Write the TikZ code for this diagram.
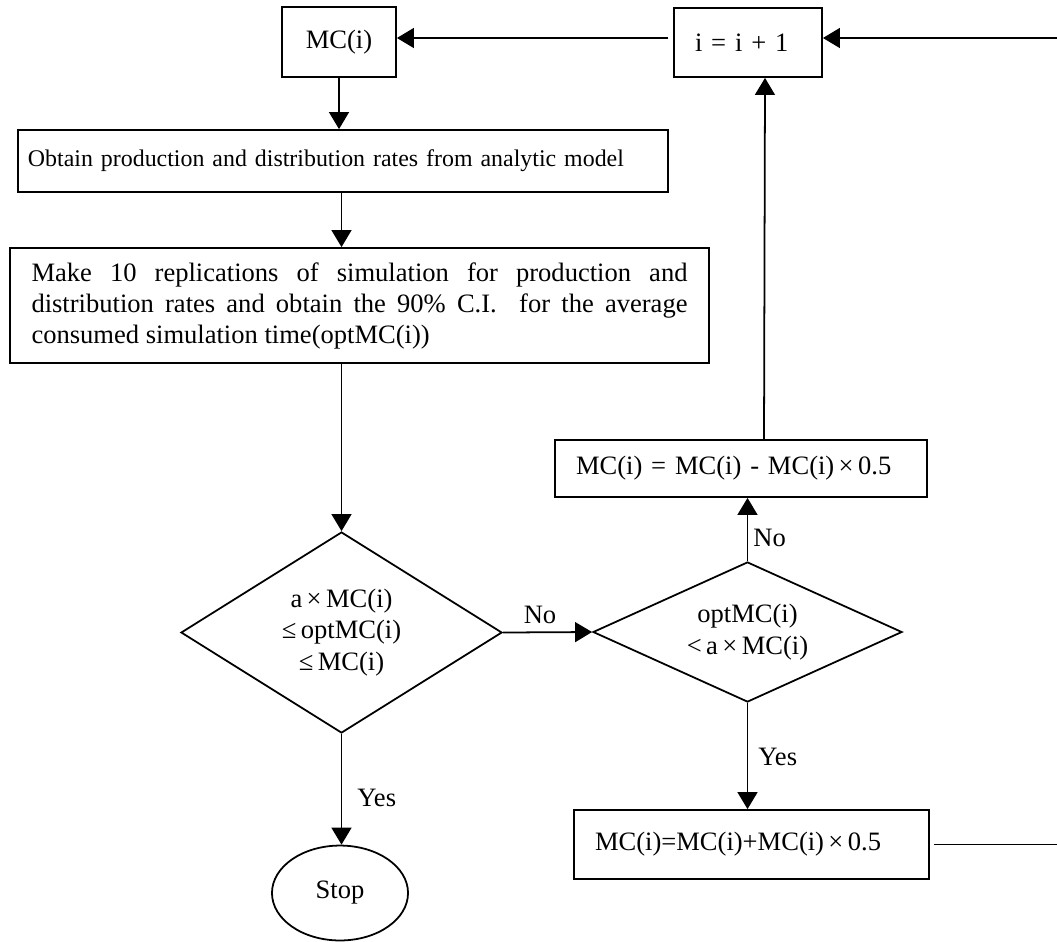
\documentclass[tikz,border=0pt]{standalone}
\usepackage{fontspec}
\setmainfont{Liberation Serif}
\usetikzlibrary{arrows.meta,shapes.geometric,calc}
\begin{document}
\begin{tikzpicture}[x=0.452pt,y=-0.452pt,
  box/.style={draw, line width=0.8pt, inner sep=0pt, font=\fontsize{12}{14}\selectfont},
  decision/.style={draw, diamond, line width=0.8pt, inner sep=0pt, align=center, font=\fontsize{12}{14.2}\selectfont},
  arr/.style={-{Triangle[length=7.7pt,width=9pt]}, line width=0.8pt},
  lbl/.style={font=\fontsize{12}{14}\selectfont, inner sep=0pt}]
\useasboundingbox (0,0) rectangle (1057,941);

\node[box, minimum width=51.53pt, minimum height=31.64pt] (mc) at (339,42) {MC(i)};
\node[box, minimum width=66.9pt, minimum height=31.19pt, text width=47.9pt, inner xsep=9.49pt, align=left] (incr) at (748,42.5) {i = i + 1};
\node[box, minimum width=293.8pt, minimum height=28.02pt, text width=284.76pt, inner xsep=4.52pt, align=left, font=\fontsize{10.8}{13}\selectfont] (obtain) at (343,161) {Obtain production and distribution rates from analytic model};
\node[box, minimum width=315.95pt, minimum height=51.98pt, text width=296.51pt, inner xsep=9.72pt, align=justify] (make) at (359.5,305.5) {Make 10 replications of simulation for production and\linebreak distribution rates and obtain the 90\% C.I.\ \ for the average\linebreak consumed simulation time(optMC(i))};
\node[decision, aspect=1.6, minimum width=145.1pt, minimum height=90.85pt] (d1) at (341.5,632.5) {a\,×\,MC(i)\\≤\,optMC(i)\\≤\,MC(i)};
\node[decision, aspect=2.2, minimum width=139.7pt, minimum height=63.3pt] (d2) at (747.5,632) {optMC(i)\\<\,a\,×\,MC(i)};
\node[box, minimum width=168.14pt, minimum height=25.76pt, text width=149.16pt, inner xsep=9.49pt, align=left] (mcminus) at (741,468.5) {MC(i) = MC(i) - MC(i)\,×\,0.5};
\node[box, minimum width=160.46pt, minimum height=31.19pt, text width=141.48pt, inner xsep=9.49pt, align=left] (mcplus) at (751.5,844.5) {MC(i)=MC(i)+MC(i)\,×\,0.5};
\node[box, ellipse, minimum width=61.5pt, minimum height=42.9pt] (stop) at (340,893) {Stop};

\node[lbl] (no1) at (540,615) {No};
\node[lbl, anchor=west] (no2) at (753,538) {No};
\node[lbl, anchor=west] (yes1) at (758,757) {Yes};
\node[lbl, anchor=west] (yes2) at (357,798) {Yes};

\coordinate (loopB) at (1062,844.5);
\coordinate (loopT) at (1062,38);

\draw[arr] (mc.south) -- (mc.south |- obtain.north);
\draw[arr] (d1.north |- obtain.south) -- (d1.north |- make.north);
\draw[arr] (d1.north |- make.south) -- (d1.north);
\draw[arr] (d1.east) -- (d2.west);
\draw[arr] (d2.north) -- (d2.north |- mcminus.south);
\draw[arr] ($(mcminus.north)+(23,0)$) -- ($(incr.south)+(17,0)$);
\draw[arr] (d2.south) -- (d2.south |- mcplus.north);
\draw[arr] (d1.south) -- (d1.south |- stop.north);
\draw[arr, shorten <=2.2pt] (incr.west |- loopT) -- (mc.east |- loopT);
\draw[arr, shorten <=1.8pt] (mcplus.east) -- (loopB) -- (loopT) -- (incr.east |- loopT);
\end{tikzpicture}
\end{document}
